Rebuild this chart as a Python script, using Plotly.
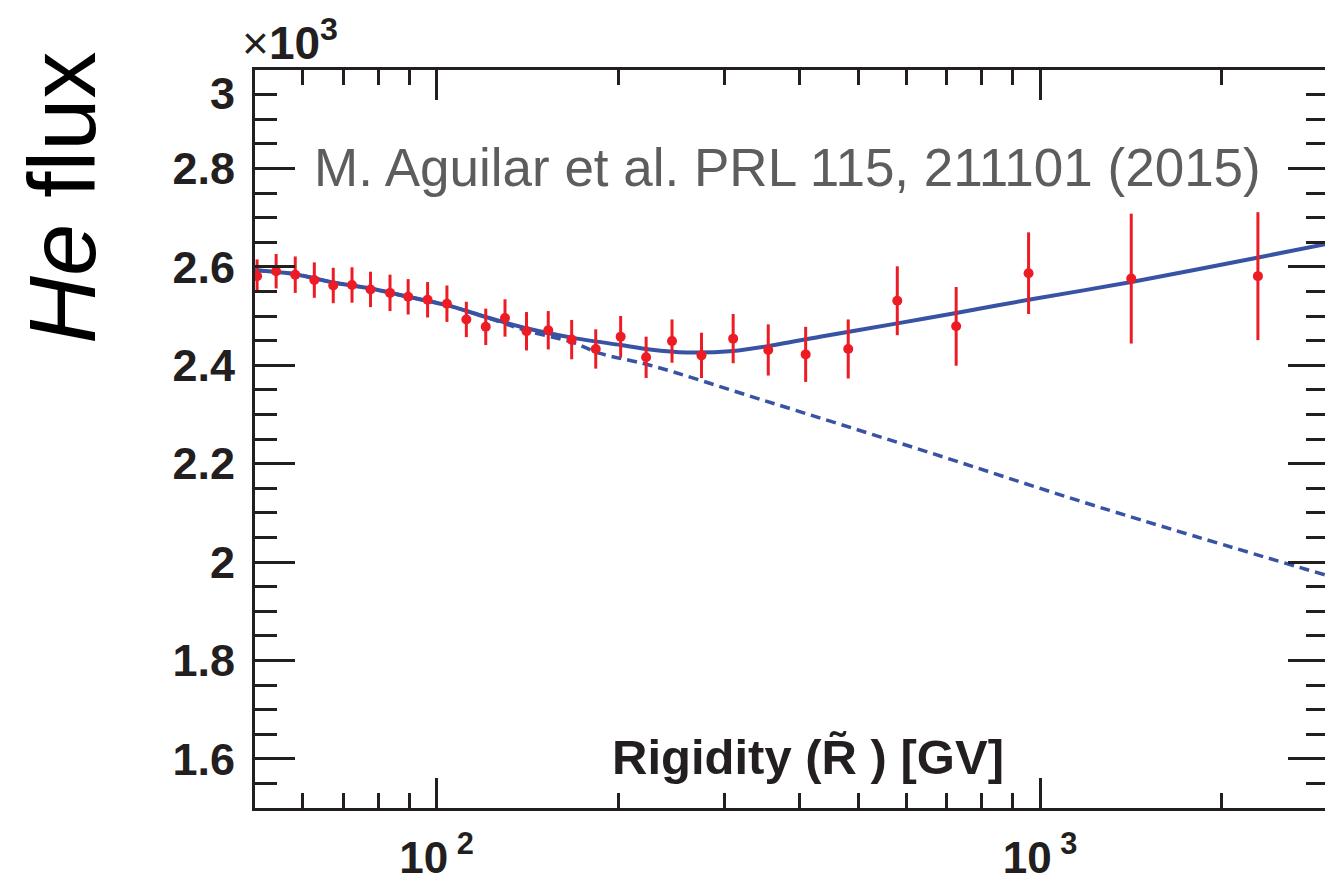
import numpy as np
import plotly.graph_objects as go

# AMS helium flux x R^2.7 (in units of 10^3)
rigidity = [50.4, 54.2, 58.3, 62.7, 67.4, 72.4, 77.7, 83.7, 89.7, 96.6, 104.0,
            112.0, 120.6, 129.8, 140.9, 153.1, 167.4, 183.5, 201.8, 222.4,
            245.5, 274.7, 310.0, 354.4, 408.8, 480.9, 579.9, 726.0, 957.0,
            1416.0, 2296.0]
flux = [2.581, 2.591, 2.584, 2.573, 2.562, 2.563, 2.554, 2.547, 2.539, 2.533,
        2.525, 2.493, 2.478, 2.496, 2.469, 2.471, 2.452, 2.433, 2.458, 2.416,
        2.449, 2.420, 2.454, 2.431, 2.422, 2.433, 2.531, 2.479, 2.587, 2.576,
        2.581]
flux_err = [0.034, 0.035, 0.037, 0.036, 0.036, 0.036, 0.036, 0.037, 0.036,
            0.036, 0.037, 0.036, 0.037, 0.038, 0.039, 0.039, 0.040, 0.040,
            0.042, 0.042, 0.044, 0.046, 0.050, 0.052, 0.056, 0.060, 0.070,
            0.080, 0.083, 0.132, 0.130]

# fit curve (solid)
fit_r = [50, 58.3, 67.4, 77.7, 89.7, 104, 120.6, 140.9, 167.4, 201.8, 225.7,
         259.7, 309.8, 354.4, 431.8, 580, 726, 957, 1417, 2300, 3000]
fit_flux = [2.593, 2.585, 2.568, 2.556, 2.539, 2.522, 2.498, 2.475, 2.456,
            2.441, 2.432, 2.426, 2.429, 2.439, 2.458, 2.485, 2.506, 2.533,
            2.569, 2.619, 2.647]

# single power law extrapolation (dashed)
pl_r = [50, 58.3, 67.4, 77.7, 89.7, 104, 120.6, 140.9, 167.4, 186.6, 225.7,
        347.3, 627.4, 1257, 3000]
pl_flux = [2.593, 2.585, 2.568, 2.556, 2.539, 2.522, 2.498, 2.470, 2.447,
           2.424, 2.400, 2.329, 2.230, 2.111, 1.972]

y_ticks = [1.6, 1.8, 2.0, 2.2, 2.4, 2.6, 2.8]
y_labels = ['1.6', '1.8', '2', '2.2', '2.4', '2.6', '2.8']
x_ticks = [100, 1000]
x_labels = ['10<sup> 2</sup>', '10<sup> 3</sup>']
x_minor = [60, 70, 80, 90, 200, 300, 400, 500, 600, 700, 800, 900, 2000, 3000]

BLUE = '#3953a4'
RED = '#ed1c24'
INK = '#231f20'
FONT = 'Liberation Sans'

# the page body adds an 8px margin, so work in window pixels minus 8
OFF = 8
W, H = 1333, 879
L, R, T, B = 255 - OFF, 1328 - OFF, 70 - OFF, 808 - OFF


def px(x, y):
    return (x - OFF - L) / (R - L), (B - (y - OFF)) / (B - T)


fig = go.Figure()
fig.add_trace(go.Scatter(x=pl_r, y=pl_flux, mode='lines', line_shape='spline',
                         line=dict(color=BLUE, width=3.5, dash='10px,6px')))
fig.add_trace(go.Scatter(x=fit_r, y=fit_flux, mode='lines', line_shape='spline',
                         line=dict(color=BLUE, width=4, smoothing=0.8)))
fig.add_trace(go.Scatter(x=rigidity, y=flux, mode='markers',
                         marker=dict(color=RED, size=10),
                         error_y=dict(type='data', array=flux_err, color=RED,
                                      thickness=3, width=0)))

fig.update_layout(width=W, height=H, showlegend=False,
                  margin=dict(l=L, r=W - R, t=T, b=H - B),
                  plot_bgcolor='white', paper_bgcolor='white',
                  font=dict(family=FONT, color=INK))

fig.update_xaxes(type='log', range=[np.log10(50), np.log10(3000)],
                 automargin=False,
                 showgrid=False, zeroline=False, showline=True,
                 linecolor=INK, linewidth=3, mirror='ticks',
                 ticks='inside', ticklen=30, tickwidth=3, tickcolor=INK,
                 tickmode='array', tickvals=x_ticks, ticktext=x_labels,
                 tickfont=dict(family=FONT, size=44, color=INK, weight='bold'),
                 ticklabelstandoff=9,
                 minor=dict(tickmode='array', tickvals=x_minor, ticks='inside',
                            ticklen=15, tickwidth=3, tickcolor=INK))
fig.update_yaxes(range=[1.5, 3.0], automargin=False,
                 showgrid=False, zeroline=False,
                 showline=True, linecolor=INK, linewidth=3, mirror='ticks',
                 ticks='inside', ticklen=40, tickwidth=3, tickcolor=INK,
                 tickmode='array', tickvals=y_ticks, ticktext=y_labels,
                 tickfont=dict(family=FONT, size=45, color=INK, weight='bold'),
                 ticklabelstandoff=8,
                 minor=dict(tickmode='linear', tick0=1.5, dtick=0.05,
                            ticks='inside', ticklen=22, tickwidth=3,
                            tickcolor=INK))

# top label "3" sits a bit below the frame
ax, _ = px(237, 0)
fig.add_annotation(x=ax, xref='paper', y=2.952, yref='y', text='3',
                   showarrow=False, xanchor='right', yanchor='middle',
                   font=dict(family=FONT, size=45, color=INK, weight='bold'))

ax, ay = px(240, 40)
fig.add_annotation(x=ax, y=ay, xref='paper', yref='paper',
                   text='×<b>10<sup>3</sup></b>', showarrow=False,
                   xanchor='left', yanchor='middle',
                   font=dict(family=FONT, size=46, color=INK))

ax, ay = px(62, 198)
fig.add_annotation(x=ax, y=ay, xref='paper', yref='paper',
                   text='<i>He</i> flux', textangle=-90, showarrow=False,
                   xanchor='center', yanchor='middle',
                   font=dict(family=FONT, size=94, color='black'))

ax, ay = px(787, 167)
fig.add_annotation(x=ax, y=ay, xref='paper', yref='paper',
                   text='M. Aguilar et al. PRL 115, 211101 (2015)',
                   showarrow=False, xanchor='center', yanchor='middle',
                   font=dict(family=FONT, size=53, color='#5d5d5d'))

ax, ay = px(808, 757)
fig.add_annotation(x=ax, y=ay, xref='paper', yref='paper',
                   text='<b>Rigidity (R\u0303 ) [GV]</b>',
                   showarrow=False, xanchor='center', yanchor='middle',
                   font=dict(family=FONT, size=49, color=INK))

fig.write_html("out.html")
